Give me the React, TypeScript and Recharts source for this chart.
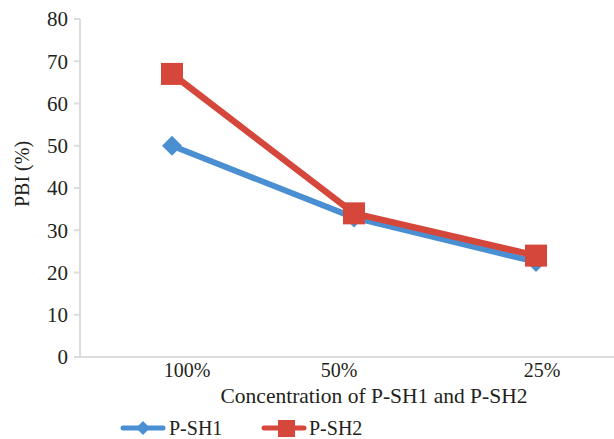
import React from 'react';
import { LineChart, Line, XAxis, YAxis, Legend } from 'recharts';

const categories = ['100%', '50%', '25%'];
const pSH1 = [50, 33, 22.5];
const pSH2 = [67, 34, 24];
const yTicks = [0, 10, 20, 30, 40, 50, 60, 70, 80];

const data = categories.map((c, i) => ({ name: c, s1: pSH1[i], s2: pSH2[i] }));

const BLUE = '#4a8fd2';
const RED = '#d6473b';
const TEXT = '#231f20';
const FONT = 'Liberation Serif, Times New Roman, serif';
const tickShift = [15, -15, 6];

const Diamond = (props: any) => {
  const { cx, cy } = props;
  if (cx == null || cy == null) return null;
  const r = 10;
  return <path d={`M${cx},${cy - r}L${cx + r},${cy}L${cx},${cy + r}L${cx - r},${cy}Z`} fill={BLUE} />;
};
const Square = (props: any) => {
  const { cx, cy } = props;
  if (cx == null || cy == null) return null;
  const s = 11;
  return <rect x={cx - s} y={cy - s} width={2 * s} height={2 * s} fill={RED} />;
};

const XTick = (props: any) => {
  const { x, y, payload, index } = props;
  return (
    <text x={x + (tickShift[index] || 0)} y={y} dy="0.71em" textAnchor="middle" style={{ fontFamily: FONT, fontSize: 20 }} fill={TEXT}>
      {payload.value}
    </text>
  );
};

const LegendContent = () => (
  <div style={{ position: 'relative', height: 34 }}>
    <svg width={614} height={34} style={{ position: 'absolute', left: 0, top: 0 }}>
      <line x1={123} x2={163} y1={23} y2={23} stroke={BLUE} strokeWidth={5} strokeLinecap="round" />
      <path d="M143,16L150,23L143,30L136,23Z" fill={BLUE} />
      <text x={169} y={30} style={{ fontFamily: FONT, fontSize: 20 }} fill={TEXT}>P-SH1</text>
      <line x1={264} x2={304} y1={23} y2={23} stroke={RED} strokeWidth={5} strokeLinecap="round" />
      <rect x={278} y={15} width={17} height={17} fill={RED} />
      <text x={309} y={30} style={{ fontFamily: FONT, fontSize: 20 }} fill={TEXT}>P-SH2</text>
    </svg>
  </div>
);

export default function App() {
  return (
    <div style={{ position: 'absolute', left: 0, top: 0, background: '#fff' }}>
      <LineChart width={614} height={439} data={data} margin={{ top: 19, right: 0, bottom: 0, left: 0 }}>
        <XAxis
          dataKey="name"
          height={48}
          padding={{ left: 92, right: 78 }}
          tickLine={false}
          axisLine={{ stroke: '#dcdcdc', strokeWidth: 2 }}
          tick={<XTick />}
          tickMargin={0}
          label={{ value: 'Concentration of P-SH1 and P-SH2', position: 'insideBottom', offset: 2, dx: 27, style: { fontFamily: FONT, fontSize: 21.5, fill: TEXT } }}
        />
        <YAxis
          width={80}
          domain={[0, 80]}
          ticks={yTicks}
          interval={0}
          tickSize={6}
          tickMargin={6}
          tickLine={{ stroke: '#dcdcdc', strokeWidth: 2 }}
          axisLine={{ stroke: '#dcdcdc', strokeWidth: 2 }}
          tick={{ style: { fontFamily: FONT, fontSize: 21 }, fill: TEXT }}
          label={{ value: 'PBI (%)', angle: -90, position: 'insideLeft', offset: 22, dy: -14, style: { fontFamily: FONT, fontSize: 20, fill: TEXT, textAnchor: 'middle' } }}
        />
        <Legend verticalAlign="bottom" content={<LegendContent />} />
        <Line dataKey="s1" name="P-SH1" stroke={BLUE} strokeWidth={6} dot={<Diamond />} activeDot={false} isAnimationActive={false} />
        <Line dataKey="s2" name="P-SH2" stroke={RED} strokeWidth={6.5} dot={<Square />} activeDot={false} isAnimationActive={false} />
      </LineChart>
    </div>
  );
}
